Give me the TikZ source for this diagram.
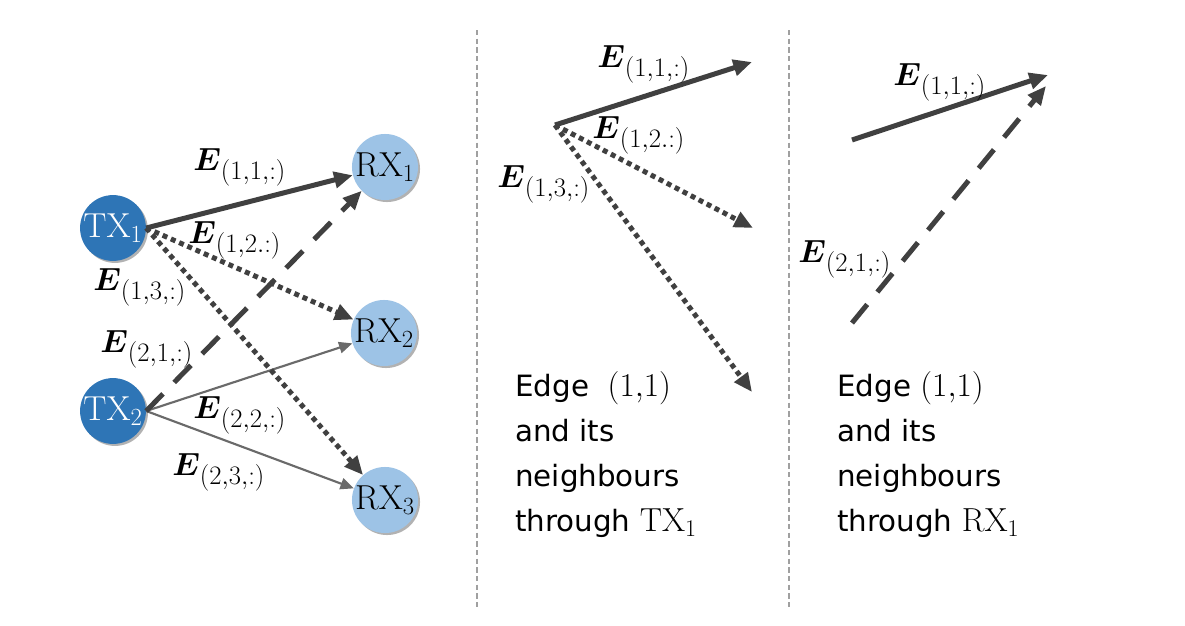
\RequirePackage{fix-cm}
\documentclass[tikz,border=0pt]{standalone}
\usepackage{amsmath}
\usepackage[no-math]{fontspec}
\setmainfont{DejaVu Sans}
\usetikzlibrary{arrows.meta,shadows}
\DeclareMathSizes{24}{24}{20}{14}
\DeclareMathSizes{22}{25}{18}{13}
\DeclareMathSizes{26}{26}{18.5}{13}
\definecolor{txblue}{HTML}{2E75B6}
\definecolor{rxblue}{HTML}{9DC3E6}
\definecolor{edgedark}{HTML}{404040}
\definecolor{edgethin}{HTML}{6A6A6A}
\definecolor{sepgray}{HTML}{A0A0A0}
\newcommand\elab[1]{$\boldsymbol{E}_{\raisebox{-3.5pt}{$\scriptstyle(#1)$}}$}
\begin{document}
\begin{tikzpicture}[x=0.75pt,y=-0.75pt,
  txnode/.style={circle,fill=txblue,minimum size=49pt,inner sep=0pt,text=white,
    font=\fontsize{26}{26}\selectfont,
    drop shadow={shadow xshift=1.5pt,shadow yshift=-1.5pt,opacity=0.3,fill=black}},
  rxnode/.style={circle,fill=rxblue,minimum size=49pt,inner sep=0pt,text=black,
    font=\fontsize{26}{26}\selectfont,
    drop shadow={shadow xshift=1.5pt,shadow yshift=-1.5pt,opacity=0.3,fill=black}},
  thickarrow/.style={draw=edgedark,line width=3.75pt,-{Triangle[length=14pt,width=12pt]}},
  solidedge/.style={thickarrow},
  dottededge/.style={thickarrow,dash pattern=on 3.75pt off 3pt},
  dashededge/.style={thickarrow,dash pattern=on 18pt off 12pt},
  thinedge/.style={draw=edgethin,line width=1.6pt,-{Triangle[length=10pt,width=8.5pt]}},
  elabel/.style={anchor=base west,inner sep=0pt,font=\fontsize{24}{24}\selectfont},
  txtline/.style={anchor=base west,inner sep=0pt,font=\fontsize{22}{22}\selectfont},
  sep/.style={draw=sepgray,line width=0.8pt,dash pattern=on 4pt off 2.5pt}
]
\useasboundingbox (0,0) rectangle (1185,625);

% separators
\coordinate (s1a) at (477,30); \coordinate (s1b) at (477,608);
\coordinate (s2a) at (789,30); \coordinate (s2b) at (789,608);
\draw[sep] (s1a) -- (s1b);
\draw[sep] (s2a) -- (s2b);

% ---------- left panel ----------
\node[txnode] (TX1) at (113,228) {$\mathrm{TX}_1$};
\node[txnode] (TX2) at (113,411) {$\mathrm{TX}_2$};
\node[rxnode] (RX1) at (385,167) {$\mathrm{RX}_1$};
\node[rxnode] (RX2) at (384,333) {$\mathrm{RX}_2$};
\node[rxnode] (RX3) at (385,500) {$\mathrm{RX}_3$};

\draw[thinedge] (TX2.east) -- (RX2);
\draw[thinedge] (TX2.east) -- (RX3);
\draw[dashededge] (TX2.east) -- (RX1);
\draw[dottededge] (TX1.east) -- (RX2);
\draw[dottededge] (TX1.east) -- (RX3);
\draw[solidedge] (TX1.east) -- (RX1);

\node[elabel] (l11) at (193,170) {\elab{1,1,:}};
\node[elabel] (l12) at (188,243) {\elab{1,2.:}};
\node[elabel] (l13) at (93,290) {\elab{1,3,:}};
\node[elabel] (l21) at (100,352) {\elab{2,1,:}};
\node[elabel] (l22) at (193,418) {\elab{2,2,:}};
\node[elabel] (l23) at (172,475) {\elab{2,3,:}};

% ---------- middle panel ----------
\coordinate (m0) at (555,125);
\coordinate (m1) at (752,62);
\coordinate (m2) at (753,228);
\coordinate (m3) at (752,392);
\draw[dottededge] (m0) -- (m3);
\draw[dottededge] (m0) -- (m2);
\draw[solidedge] (m0) -- (m1);
\node[elabel] (ml11) at (597,67) {\elab{1,1,:}};
\node[elabel] (ml12) at (592,138) {\elab{1,2.:}};
\node[elabel] (ml13) at (497,187) {\elab{1,3,:}};

\node[txtline] (mt1) at (515,396) {Edge\ \ $(1{,}1)$};
\node[txtline] (mt2) at (515,441) {and its};
\node[txtline] (mt3) at (515,486) {neighbours};
\node[txtline] (mt4) at (515,531) {through $\mathrm{TX}_1$};

% ---------- right panel ----------
\coordinate (r0) at (852,140);
\coordinate (r1) at (1048,75);
\coordinate (r2) at (852,323);
\coordinate (r3) at (1046,86);
\draw[dashededge] (r2) -- (r3);
\draw[solidedge] (r0) -- (r1);
\node[elabel] (rl11) at (893,85) {\elab{1,1,:}};
\node[elabel] (rl21) at (798,262) {\elab{2,1,:}};

\node[txtline] (rt1) at (837,396) {Edge $(1{,}1)$};
\node[txtline] (rt2) at (837,441) {and its};
\node[txtline] (rt3) at (837,486) {neighbours};
\node[txtline] (rt4) at (837,531) {through $\mathrm{RX}_1$};
\end{tikzpicture}
\end{document}
